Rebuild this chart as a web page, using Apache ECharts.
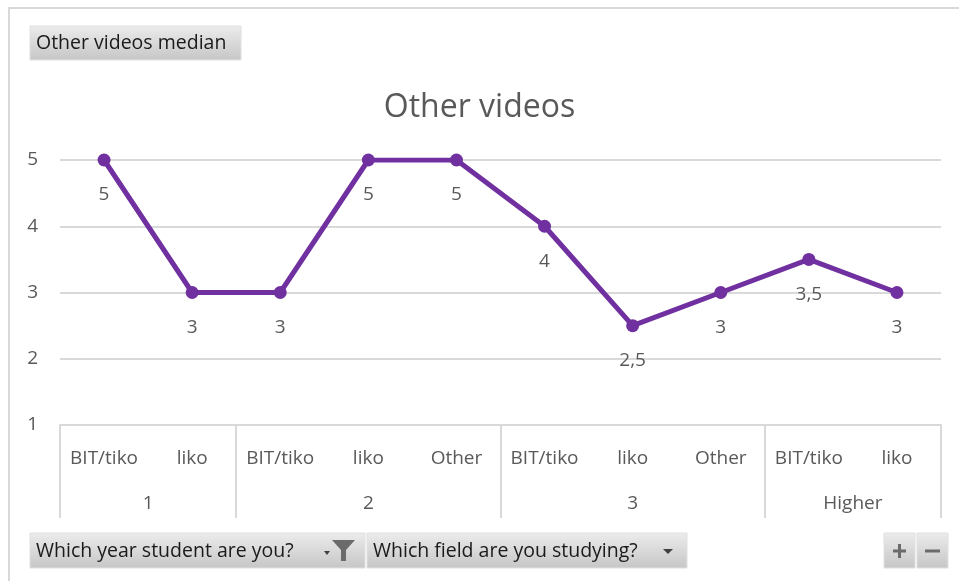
<!DOCTYPE html>
<html>
<head>
  <meta charset="UTF-8">
  <style>
    html, body { margin: 0; padding: 0; background: #fff; }
  </style>
  <script src="https://cdn.jsdelivr.net/npm/echarts@6/dist/echarts.min.js"></script>
</head>
<body>
  <div id="chart" style="width: 959px; height: 581px;"></div>
  <script>
    // pivot chart data
    const categories = ['BIT/tiko', 'liko', 'BIT/tiko', 'liko', 'Other', 'BIT/tiko', 'liko', 'Other', 'BIT/tiko', 'liko']
    const groups = ['1', '2', '3', 'Higher']
    const groupSizes = [2, 3, 3, 2]
    const medians = [5, 3, 3, 5, 5, 4, 2.5, 3, 3.5, 3]
    const yTicks = [1, 2, 3, 4, 5]

    // group boundaries / centers in category units
    const bounds = [0]
    const centers = []
    groupSizes.forEach(n => {
      const start = bounds[bounds.length - 1]
      centers.push(start + n / 2)
      bounds.push(start + n)
    })

    const font = '"Open Sans", "Noto Sans", sans-serif'
    const grey = '#595959'
    const btnFont = '19.5px ' + font
    const btnFill = {
      type: 'linear', x: 0, y: 0, x2: 0, y2: 1,
      colorStops: [{ offset: 0, color: '#ececec' }, { offset: 1, color: '#c6c6c6' }]
    }

    const myChart = echarts.init(document.getElementById('chart'))

    options = {
      animation: false,
      backgroundColor: '#fff',
      title: {
        text: 'Other videos',
        left: 'center',
        top: 87,
        textStyle: { fontFamily: font, fontSize: 32, fontWeight: 'normal', color: grey }
      },
      grid: { left: 60, right: 18, top: 160, bottom: 156 },
      xAxis: [
        {
          type: 'category',
          data: categories,
          boundaryGap: true,
          axisLine: { lineStyle: { color: '#d9d9d9', width: 2 } },
          axisTick: { show: false },
          axisLabel: { margin: 24, fontFamily: font, fontSize: 19, color: grey, interval: 0 }
        },
        {
          type: 'value',
          position: 'bottom',
          min: 0,
          max: categories.length,
          axisLine: { show: false, onZero: false },
          splitLine: { show: false },
          axisTick: {
            show: true,
            customValues: bounds,
            length: 93,
            lineStyle: { color: '#d9d9d9', width: 2 }
          },
          axisLabel: {
            customValues: centers,
            margin: 69,
            fontFamily: font, fontSize: 19, color: grey,
            formatter: v => groups[centers.indexOf(v)]
          }
        }
      ],
      yAxis: {
        type: 'value',
        min: yTicks[0],
        max: yTicks[yTicks.length - 1],
        interval: 1,
        axisLine: { show: false },
        axisTick: { show: false },
        axisLabel: { margin: 22, fontFamily: font, fontSize: 19, color: grey },
        splitLine: { lineStyle: { color: '#d9d9d9', width: 2 } }
      },
      series: [
        {
          name: 'Other videos',
          type: 'line',
          xAxisIndex: 0,
          data: medians,
          symbol: 'circle',
          symbolSize: 13,
          lineStyle: { color: '#7030a0', width: 5 },
          itemStyle: { color: '#7030a0' },
          label: {
            show: true,
            position: 'bottom',
            distance: 19,
            fontFamily: font, fontSize: 19, color: grey,
            formatter: p => String(p.value).replace('.', ',')
          }
        }
      ],
      graphic: [
        // outer frame
        { type: 'rect', shape: { x: 9, y: 8, width: 960, height: 590 }, style: { fill: null, stroke: '#d9d9d9', lineWidth: 2 }, silent: true },
        // field buttons
        { type: 'rect', shape: { x: 30, y: 26, width: 211, height: 34 }, style: { fill: btnFill, stroke: '#e0e0e0' } },
        { type: 'text', x: 36, y: 43, style: { text: 'Other videos median', font: btnFont, fill: '#1a1a1a', verticalAlign: 'middle' } },
        { type: 'rect', shape: { x: 30, y: 533, width: 335, height: 35 }, style: { fill: btnFill, stroke: '#e0e0e0' } },
        { type: 'text', x: 36, y: 551, style: { text: 'Which year student are you?', font: btnFont, fill: '#1a1a1a', verticalAlign: 'middle' } },
        { type: 'polygon', shape: { points: [[324, 551], [330, 551], [327, 555]] }, style: { fill: '#404040' } },
        { type: 'polygon', shape: { points: [[332, 540], [355, 540], [346, 550], [346, 561], [341, 561], [341, 550]] }, style: { fill: '#6b6b6b' } },
        { type: 'rect', shape: { x: 367, y: 533, width: 320, height: 35 }, style: { fill: btnFill, stroke: '#e0e0e0' } },
        { type: 'text', x: 373, y: 551, style: { text: 'Which field are you studying?', font: btnFont, fill: '#1a1a1a', verticalAlign: 'middle' } },
        { type: 'polygon', shape: { points: [[663, 549], [673, 549], [668, 554]] }, style: { fill: '#404040' } },
        { type: 'rect', shape: { x: 884, y: 533, width: 31, height: 35 }, style: { fill: btnFill, stroke: '#e0e0e0' } },
        { type: 'rect', shape: { x: 917, y: 533, width: 31, height: 35 }, style: { fill: btnFill, stroke: '#e0e0e0' } },
        { type: 'line', shape: { x1: 893, y1: 551, x2: 906, y2: 551 }, style: { stroke: '#6b6b6b', lineWidth: 3 } },
        { type: 'line', shape: { x1: 899.5, y1: 544, x2: 899.5, y2: 558 }, style: { stroke: '#6b6b6b', lineWidth: 3 } },
        { type: 'line', shape: { x1: 925, y1: 551, x2: 940, y2: 551 }, style: { stroke: '#6b6b6b', lineWidth: 3 } }
      ]
    }

    myChart.setOption(options)
  </script>
</body>
</html>
